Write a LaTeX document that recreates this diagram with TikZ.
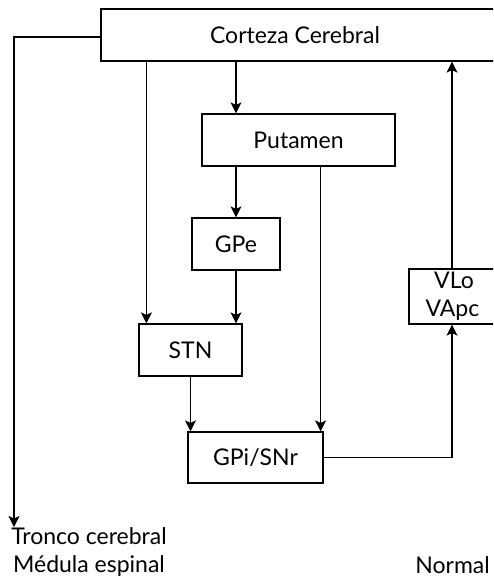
\documentclass[tikz,border=0pt]{standalone}
\usepackage{fontspec}
\setmainfont{Lato}
\usetikzlibrary{arrows.meta}
\begin{document}
\begin{tikzpicture}[x=1pt,y=-1pt,
  lw/.style={line width=1.2pt},
  box/.style={draw, lw, inner sep=0pt, font=\fontsize{23}{28}\selectfont},
  lbl/.style={inner sep=0pt, font=\fontsize{23}{28}\selectfont},
  arr/.style={lw, -{Stealth[length=11pt,width=11pt,inset=2.5pt]}},
  ln/.style={lw}]
\path[use as bounding box] (0,0) rectangle (493,577);
\clip (0,0) rectangle (493,577);
\node[box, minimum width=399pt, minimum height=52pt] (cortex) at (300.5,35) {Corteza Cerebral\hspace*{11pt}};
\node[box, minimum width=193pt, minimum height=52pt] (putamen) at (298.5,140) {Putamen};
\node[box, minimum width=88pt, minimum height=52pt] (gpe) at (236,244) {GPe};
\node[box, minimum width=103pt, minimum height=52pt] (stn) at (190.5,350) {STN};
\node[box, minimum width=135pt, minimum height=51pt] (gpi) at (255.5,457.5) {GPi/SNr};
\node[box, minimum width=90pt, minimum height=55pt, align=center] (vlo) at (454,296.5) {VLo\\VApc\hspace*{3pt}};
\node[lbl, align=center, anchor=north] (tronco) at (89,527) {Tronco cerebral\\Médula espinal};
\node[lbl, anchor=base east, text depth=0pt] (normal) at (490,573) {Normal};
\coordinate (bend) at (14,37);
\coordinate (vx) at (452,0);
% connectors
\draw[arr] (cortex.south -| gpe.north) -- (putamen.north -| gpe.north);
\draw[arr] (putamen.south -| gpe.north) -- (gpe.north);
\draw[arr] (gpe.south) -- (stn.north -| gpe.south);
\draw[arr] ([xshift=8pt]stn.north west |- cortex.south) -- ([xshift=8pt]stn.north west);
\draw[arr] (stn.south) -- (gpi.north -| stn.south);
\draw[arr] ([xshift=-3pt]gpi.north east |- putamen.south) -- ([xshift=-3pt]gpi.north east);
\draw[arr] (gpi.east) -| (vlo.south -| vx);
\draw[arr] (vlo.north -| vx) -- (cortex.south -| vx);
\draw[arr] (cortex.west |- bend) -- (bend) -- (bend |- tronco.north);
\end{tikzpicture}
\end{document}
